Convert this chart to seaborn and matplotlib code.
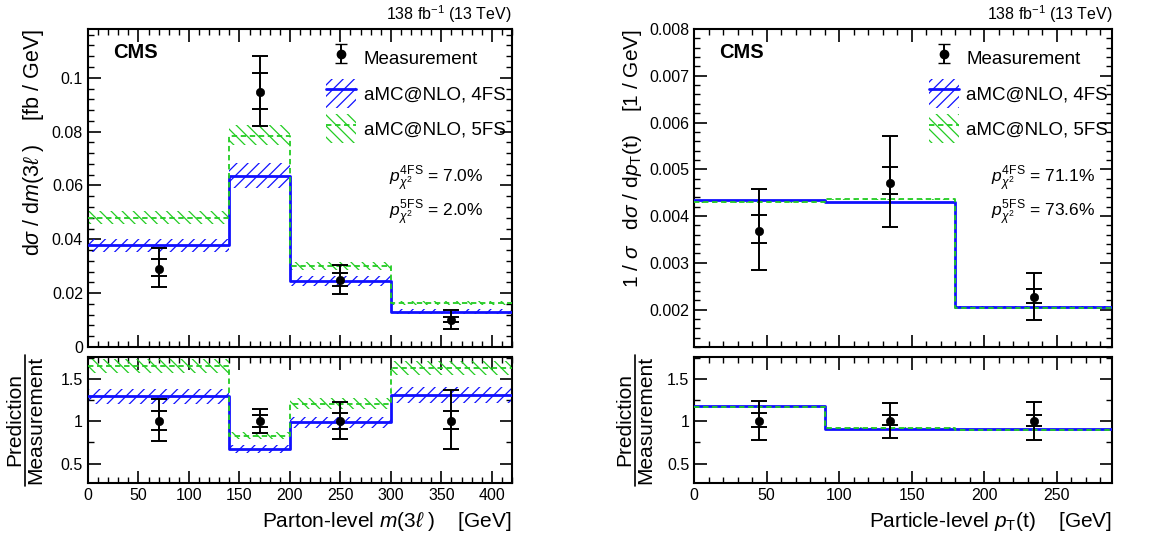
import numpy as np
import matplotlib
matplotlib.use("Agg")
import matplotlib.pyplot as plt
import seaborn as sns
from matplotlib.lines import Line2D
from matplotlib.patches import Patch
from matplotlib.ticker import MultipleLocator, FuncFormatter

# ---------------- data: left panel, m(3l) ----------------
m3l_edges = [0, 140, 200, 300, 420]
m3l_x = [70, 170, 250, 360]
m3l_meas = [0.0291, 0.0946, 0.0249, 0.0100]
m3l_tot_up = [0.0368, 0.1080, 0.0306, 0.01375]
m3l_tot_dn = [0.0222, 0.0820, 0.0196, 0.00676]
m3l_stat_up = [0.0328, 0.1016, 0.0274, 0.01126]
m3l_stat_dn = [0.0262, 0.0883, 0.0225, 0.00910]
m3l_4fs = [0.0379, 0.0634, 0.0246, 0.0131]
m3l_4fs_up = [0.0402, 0.0684, 0.0263, 0.0140]
m3l_4fs_dn = [0.0351, 0.0590, 0.0228, 0.0122]
m3l_5fs = [0.0480, 0.0785, 0.0301, 0.0163]
m3l_5fs_up = [0.0505, 0.0826, 0.0317, 0.0171]
m3l_5fs_dn = [0.0456, 0.0749, 0.0286, 0.0155]

# ---------------- data: right panel, pT(t) ----------------
pt_edges = [0, 90, 180, 288]
pt_x = [45, 135, 234]
pt_meas = [0.00368, 0.00471, 0.00227]
pt_tot_up = [0.00458, 0.00572, 0.00278]
pt_tot_dn = [0.00285, 0.00377, 0.00178]
pt_stat_up = [0.00403, 0.00505, 0.00243]
pt_stat_dn = [0.00343, 0.00448, 0.00214]
pt_4fs = [0.00434, 0.00430, 0.00206]
pt_4fs_up = [0.00435, 0.00431, 0.00207]
pt_4fs_dn = [0.00433, 0.00429, 0.00205]
pt_5fs = [0.00429, 0.00436, 0.00204]
pt_5fs_up = [0.00430, 0.00437, 0.00205]
pt_5fs_dn = [0.00428, 0.00435, 0.00203]

pvals_left = ["7.0%", "2.0%"]
pvals_right = ["71.1%", "73.6%"]

BLUE = "#1010ff"
GREEN = "#22cc22"

sns.set_theme(style="white")
plt.rcParams["font.family"] = ["Liberation Sans", "DejaVu Sans"]
plt.rcParams["mathtext.fontset"] = "custom"
plt.rcParams["mathtext.rm"] = "Liberation Sans"
plt.rcParams["mathtext.it"] = "Liberation Sans:italic"
plt.rcParams["mathtext.bf"] = "Liberation Sans:bold"
plt.rcParams["mathtext.fallback"] = "stixsans"
plt.rcParams["hatch.linewidth"] = 0.9
plt.rcParams["axes.linewidth"] = 1.5

fig = plt.figure(figsize=(11.7, 5.34), dpi=100)

def ext(v):
    return list(v) + [v[-1]]

def style_axes(ax, xmaj, xmin, ymaj, ymin):
    ax.set_facecolor("white")
    for s in ax.spines.values():
        s.set_color("black")
        s.set_linewidth(1.5)
    ax.xaxis.set_major_locator(MultipleLocator(xmaj))
    ax.xaxis.set_minor_locator(MultipleLocator(xmin))
    ax.yaxis.set_major_locator(MultipleLocator(ymaj))
    ax.yaxis.set_minor_locator(MultipleLocator(ymin))
    ax.tick_params(which="both", direction="in", top=True, right=True,
                   bottom=True, left=True, color="black", labelsize=11.5,
                   labelcolor="black")
    ax.tick_params(which="major", length=9, width=1.2)
    ax.tick_params(which="minor", length=4.5, width=1.0)
    ax.yaxis.set_major_formatter(FuncFormatter(lambda v, p: "%g" % round(v, 6)))
    ax.xaxis.set_major_formatter(FuncFormatter(lambda v, p: "%g" % round(v, 6)))


def draw(ax, edges, xc, meas, tu, td, su, sd, preds, scale=None):
    xc = np.asarray(xc, float)
    meas = np.asarray(meas, float)
    div = np.ones_like(meas) if scale is None else np.asarray(scale, float)
    for vals, up, dn, color, hatch, ls, lw in preds:
        v = np.asarray(vals) / div
        u = np.asarray(up) / div
        d = np.asarray(dn) / div
        ax.fill_between(edges, ext(u), ext(d), step="post", facecolor="none",
                        edgecolor=color, hatch=hatch, linewidth=0, zorder=2)
        sns.lineplot(x=edges, y=ext(v), drawstyle="steps-post", ax=ax,
                     color=color, linestyle=ls, linewidth=lw,
                     estimator=None, sort=False, zorder=3)
    m = meas / div
    tu = np.asarray(tu) / div
    td = np.asarray(td) / div
    su = np.asarray(su) / div
    sd = np.asarray(sd) / div
    ax.errorbar(xc, m, yerr=[m - td, tu - m], fmt="none", ecolor="black",
                elinewidth=1.4, capsize=5.5, capthick=1.4, zorder=5)
    ax.errorbar(xc, m, yerr=[m - sd, su - m], fmt="none", ecolor="black",
                elinewidth=1.4, capsize=5.5, capthick=1.4, zorder=5)
    sns.scatterplot(x=xc, y=m, ax=ax, color="black", s=36, edgecolor="black",
                    zorder=6, legend=False)


def panel(xl, w, edges, xc, meas, tu, td, su, sd, p4, p4u, p4d, p5, p5u, p5d,
          ylim, ymaj, ymin, ylabel, xlabel, xlim, pv, ylfs):
    ax = fig.add_axes([xl, 0.3502, w, 0.5955])
    axr = fig.add_axes([xl, 0.0955, w, 0.236])
    preds = [(p4, p4u, p4d, BLUE, "///", "-", 2.0),
             (p5, p5u, p5d, GREEN, "\\\\\\", (0, (3, 2)), 1.3)]
    draw(ax, edges, xc, meas, tu, td, su, sd, preds)
    draw(axr, edges, xc, meas, tu, td, su, sd, preds, scale=meas)

    style_axes(ax, 50, 10, ymaj, ymin)
    style_axes(axr, 50, 10, 0.5, 0.25)
    ax.set_xlim(*xlim)
    axr.set_xlim(*xlim)
    ax.set_ylim(*ylim)
    axr.set_ylim(0.27, 1.76)
    ax.tick_params(labelbottom=False)
    ax.set_ylabel(ylabel, fontsize=ylfs, loc="top", color="black")
    ax.set_xlabel("")
    axr.set_ylabel("")
    axr.set_xlabel(xlabel, fontsize=15, loc="right", color="black", labelpad=5)

    ax.text(0.06, 0.955, "CMS", transform=ax.transAxes, fontsize=14.5,
            fontweight="bold", va="top", ha="left", color="black")
    ax.text(1.0, 1.012, r"138 fb$^{\mathrm{-1}}$ (13 TeV)", transform=ax.transAxes,
            fontsize=11.5, ha="right", va="bottom", color="black")
    ax.text(0.71, 0.53, r"$p^{\mathrm{4FS}}_{\chi^2}$ = " + pv[0],
            transform=ax.transAxes, fontsize=12.5, va="center", color="black")
    ax.text(0.71, 0.425, r"$p^{\mathrm{5FS}}_{\chi^2}$ = " + pv[1],
            transform=ax.transAxes, fontsize=12.5, va="center", color="black")

    # legend
    eb_proxy = ax.errorbar([np.nan], [np.nan], yerr=[[1], [1]], fmt="o",
                           color="black", ms=6, capsize=4, elinewidth=1.4)
    h4 = (Patch(facecolor="none", edgecolor=BLUE, hatch="///", linewidth=0),
          Line2D([], [], color=BLUE, lw=2.0))
    h5 = (Patch(facecolor="none", edgecolor=GREEN, hatch="\\\\\\", linewidth=0),
          Line2D([], [], color=GREEN, lw=1.3, linestyle=(0, (3, 2))))
    leg = ax.legend([eb_proxy, h4, h5],
                    ["Measurement", "aMC@NLO, 4FS", "aMC@NLO, 5FS"],
                    loc="upper left", bbox_to_anchor=(0.535, 0.99),
                    frameon=False, fontsize=13.5, handlelength=1.6,
                    handleheight=2.0, labelspacing=0.35, handletextpad=0.4,
                    borderaxespad=0.2)
    for t in leg.get_texts():
        t.set_color("black")
    return ax, axr


panel(0.0752, 0.3624, m3l_edges, m3l_x, m3l_meas, m3l_tot_up, m3l_tot_dn,
      m3l_stat_up, m3l_stat_dn, m3l_4fs, m3l_4fs_up, m3l_4fs_dn,
      m3l_5fs, m3l_5fs_up, m3l_5fs_dn, (0, 0.1181), 0.02, 0.004,
      r"d$\sigma$ / d$m$(3$\ell$ )    [fb / GeV]",
      r"Parton-level $m$(3$\ell$ )    [GeV]", (0, 420), pvals_left, 15.5)

panel(0.5932, 0.3573, pt_edges, pt_x, pt_meas, pt_tot_up, pt_tot_dn,
      pt_stat_up, pt_stat_dn, pt_4fs, pt_4fs_up, pt_4fs_dn,
      pt_5fs, pt_5fs_up, pt_5fs_dn, (0.0012, 0.008), 0.001, 0.0002,
      r"1 / $\sigma$   d$\sigma$ / d$p_{\mathrm{T}}$(t)    [1 / GeV]",
      r"Particle-level $p_{\mathrm{T}}$(t)    [GeV]", (0, 288), pvals_right, 15)

# ratio labels (fraction)
W, H = 1170.0, 534.0
for xp, xm, xline in [(15, 36, 25), (625, 646, 635)]:
    fig.text(xp / W, 1 - 420 / H, "Prediction", rotation=90, fontsize=15,
             ha="center", va="center", color="black")
    fig.text(xm / W, 1 - 420 / H, "Measurement", rotation=90, fontsize=15,
             ha="center", va="center", color="black")
    fig.add_artist(Line2D([xline / W, xline / W], [1 - 355 / H, 1 - 486 / H],
                          color="black", lw=1.2, transform=fig.transFigure))

fig.savefig("out.png", dpi=100, facecolor="white")
